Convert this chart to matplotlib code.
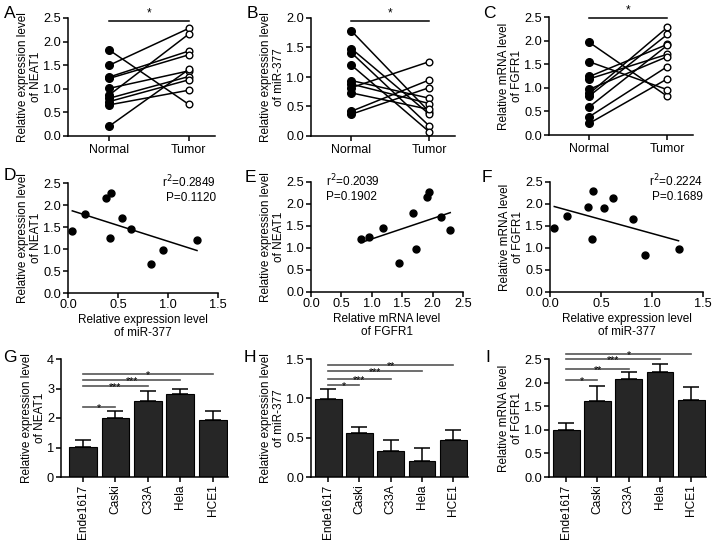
import numpy as np
import matplotlib
matplotlib.use("Agg")
import matplotlib.pyplot as plt

plt.rcParams['font.family'] = ['Liberation Sans', 'DejaVu Sans']
plt.rcParams['axes.linewidth'] = 1.1
plt.rcParams['xtick.major.width'] = 1.1
plt.rcParams['ytick.major.width'] = 1.1
plt.rcParams['xtick.major.size'] = 3.5
plt.rcParams['ytick.major.size'] = 3.5
plt.rcParams['xtick.major.pad'] = 2
plt.rcParams['ytick.major.pad'] = 1.5
plt.rcParams['xtick.labelsize'] = 9.2
plt.rcParams['ytick.labelsize'] = 9.2

W, H = 716, 542
LAB = 8.5

# paired normal / tumor values
neat1_normal = [1.82, 1.50, 1.25, 1.22, 1.01, 0.87, 0.80, 0.73, 0.66, 0.21]
neat1_tumor = [0.67, 2.28, 1.80, 1.72, 1.38, 2.16, 1.26, 1.19, 0.97, 1.41]
mir_normal = [1.78, 1.48, 1.41, 1.20, 0.94, 0.88, 0.82, 0.73, 0.42, 0.37]
mir_tumor = [0.41, 0.37, 0.17, 0.07, 0.64, 0.55, 1.26, 0.45, 0.95, 0.82]
fgfr_normal = [1.96, 1.55, 1.24, 1.19, 0.97, 0.88, 0.83, 0.60, 0.39, 0.25]
fgfr_tumor = [0.82, 0.96, 1.92, 1.71, 1.66, 2.28, 2.13, 1.90, 1.45, 1.19]

# correlation scatter (tumor samples)
d_mir = [0.043, 0.167, 0.377, 0.427, 0.417, 0.543, 0.633, 0.827, 0.95, 1.29]
d_neat = [1.41, 1.79, 2.16, 2.28, 1.24, 1.71, 1.45, 0.66, 0.98, 1.20]
e_fgfr = [0.82, 0.96, 1.19, 1.45, 1.68, 1.72, 1.91, 1.94, 2.13, 2.29]
e_neat = [1.20, 1.24, 1.45, 0.67, 1.80, 0.98, 2.16, 2.27, 1.70, 1.41]
f_mir = [0.042, 0.163, 0.368, 0.424, 0.414, 0.53, 0.62, 0.81, 0.93, 1.26]
f_fgfr = [1.46, 1.73, 1.94, 2.29, 1.20, 1.91, 2.14, 1.67, 0.83, 0.97]

# cell lines
cells = ['Ende1617', 'Caski', 'C33A', 'Hela', 'HCE1']
g_mean = [1.01, 1.99, 2.56, 2.81, 1.92]
g_err = [0.26, 0.26, 0.34, 0.19, 0.33]
h_mean = [0.99, 0.56, 0.335, 0.20, 0.475]
h_err = [0.13, 0.07, 0.14, 0.17, 0.118]
i_mean = [1.00, 1.62, 2.08, 2.22, 1.64]
i_err = [0.14, 0.30, 0.14, 0.17, 0.27]
g_sig = [(1, 2.37, '*'), (2, 3.10, '***'), (3, 3.30, '***'), (4, 3.50, '*')]
h_sig = [(1, 1.17, '*'), (2, 1.25, '***'), (3, 1.35, '***'), (4, 1.43, '**')]
i_sig = [(1, 2.06, '*'), (2, 2.29, '**'), (3, 2.50, '***'), (4, 2.61, '*')]

fig = plt.figure(figsize=(W / 100, H / 100), dpi=100)


def px_axes(l, t, r, b):
    ax = fig.add_axes([l / W, 1 - b / H, (r - l) / W, (b - t) / H])
    ax.spines['top'].set_visible(False)
    ax.spines['right'].set_visible(False)
    ax.patch.set_alpha(0)
    return ax


def paired(ax, normal, tumor, ymax, step, ylabel, sig_y):
    for n, t in zip(normal, tumor):
        ax.plot([0, 1], [n, t], color='k', lw=1.1, zorder=1)
    ax.plot(np.zeros(len(normal)), normal, 'o', color='k', ms=5.5, zorder=2, clip_on=False)
    ax.plot(np.ones(len(tumor)), tumor, 'o', mfc='white', mec='k', mew=1.0, ms=4.8, zorder=2, clip_on=False)
    ax.set_xlim(-0.52, 1.33)
    ax.set_ylim(0, ymax)
    ax.set_yticks(np.arange(0, ymax + 0.001, step))
    ax.yaxis.set_major_formatter(matplotlib.ticker.FormatStrFormatter('%.1f'))
    ax.set_xticks([0, 1])
    ax.set_xticklabels(['Normal', 'Tumor'], fontsize=8.9)
    ax.set_ylabel(ylabel, fontsize=LAB, labelpad=1, linespacing=1.1)
    ax.plot([0, 1], [sig_y, sig_y], color='k', lw=1.1, clip_on=False)
    ax.annotate('*', (0.5, sig_y), xytext=(0, 1), textcoords='offset points',
                ha='center', va='bottom', fontsize=8.5, annotation_clip=False)


def scatter(ax, x, y, xmax, ylabel, xlabel):
    ax.plot(x, y, 'o', color='k', ms=5, clip_on=False)
    k, b = np.polyfit(x, y, 1)
    xs = np.array([min(x), max(x)])
    ax.plot(xs, k * xs + b, color='k', lw=1.1)
    ax.set_xlim(0, xmax)
    ax.set_ylim(0, 2.5)
    ax.set_yticks(np.arange(0, 2.51, 0.5))
    ax.set_xticks(np.arange(0, xmax + 0.001, 0.5))
    ax.xaxis.set_major_formatter(matplotlib.ticker.FormatStrFormatter('%.1f'))
    ax.yaxis.set_major_formatter(matplotlib.ticker.FormatStrFormatter('%.1f'))
    ax.tick_params(axis='x', pad=1)
    ax.set_ylabel(ylabel, fontsize=LAB, labelpad=1, linespacing=1.1)
    ax.set_xlabel(xlabel, fontsize=LAB, labelpad=2, linespacing=1.15)
    return ax


def bars(ax, mean, err, ymax, ticks, ylabel, sig, fmt, left):
    x = np.arange(len(cells))
    ax.bar(x, mean, width=0.86, color='#262626', edgecolor='k', lw=0.8, zorder=1)
    ax.errorbar(x, mean, yerr=[np.zeros(len(err)), err], fmt='none', ecolor='k',
                elinewidth=1.1, capsize=5.5, capthick=1.1, zorder=0)
    ax.set_xlim(left, 4.47)
    ax.set_ylim(0, ymax)
    ax.set_yticks(ticks)
    ax.yaxis.set_major_formatter(matplotlib.ticker.FormatStrFormatter(fmt))
    ax.set_xticks(x)
    ax.set_xticklabels(cells, rotation=90, fontsize=8.6)
    ax.set_ylabel(ylabel, fontsize=LAB, labelpad=1, linespacing=1.1)
    for j, yv, s in sig:
        ax.plot([0, j], [yv, yv], color='#555555', lw=1.2, clip_on=False)
        ax.annotate(s, (j / 2, yv), xytext=(0, -3.2), textcoords='offset points',
                    ha='center', va='baseline', fontsize=7.5, annotation_clip=False)


# row 1
axA = px_axes(68, 18, 215, 136)
paired(axA, neat1_normal, neat1_tumor, 2.5, 0.5, 'Relative expression level\nof NEAT1', 2.44)
axB = px_axes(311, 18, 455, 136)
paired(axB, mir_normal, mir_tumor, 2.0, 0.5, 'Relative expression level\nof miR-377', 1.95)
axC = px_axes(549, 17, 693, 135)
paired(axC, fgfr_normal, fgfr_tumor, 2.5, 0.5, 'Relative mRNA level\nof FGFR1', 2.48)

# row 2
axD = px_axes(68, 183, 218, 293)
scatter(axD, d_mir, d_neat, 1.5, 'Relative expression level\nof NEAT1',
        'Relative expression level\nof miR-377')
axD.text(216 / W, 1 - 189 / H, 'r$^2$=0.2849\nP=0.1120', transform=fig.transFigure,
         ha='right', va='center', fontsize=LAB, linespacing=1.2)
axE = px_axes(311, 182, 463, 292)
scatter(axE, e_fgfr, e_neat, 2.5, 'Relative expression level\nof NEAT1',
        'Relative mRNA level\nof FGFR1')
axE.text(326 / W, 1 - 188 / H, 'r$^2$=0.2039\nP=0.1902', transform=fig.transFigure,
         ha='left', va='center', fontsize=LAB, linespacing=1.2)
axF = px_axes(550, 182, 703, 292)
scatter(axF, f_mir, f_fgfr, 1.5, 'Relative mRNA level\nof FGFR1',
        'Relative expression level\nof miR-377')
axF.text(703 / W, 1 - 188 / H, 'r$^2$=0.2224\nP=0.1689', transform=fig.transFigure,
         ha='right', va='center', fontsize=LAB, linespacing=1.2)

# row 3
axG = px_axes(61, 359, 228, 477)
bars(axG, g_mean, g_err, 4, [0, 1, 2, 3, 4], 'Relative expression level\nof NEAT1', g_sig, '%d', -0.68)
axH = px_axes(311, 359, 468, 477)
bars(axH, h_mean, h_err, 1.5, [0, 0.5, 1.0, 1.5], 'Relative expression level\nof miR-377', h_sig, '%.1f', -0.55)
axI = px_axes(549, 359, 706, 477)
bars(axI, i_mean, i_err, 2.5, [0, 0.5, 1.0, 1.5, 2.0, 2.5], 'Relative mRNA level\nof FGFR1', i_sig, '%.1f', -0.55)

# panel letters
letters = [('A', 10, 14), ('B', 252, 14), ('C', 489, 14),
           ('D', 10, 176), ('E', 250, 177), ('F', 487, 177),
           ('G', 10, 357), ('H', 250, 357), ('I', 488, 357)]
for s, lx, ly in letters:
    fig.text(lx / W, 1 - ly / H, s, fontsize=12.5, ha='center', va='center')

fig.savefig('out.png', dpi=100)
